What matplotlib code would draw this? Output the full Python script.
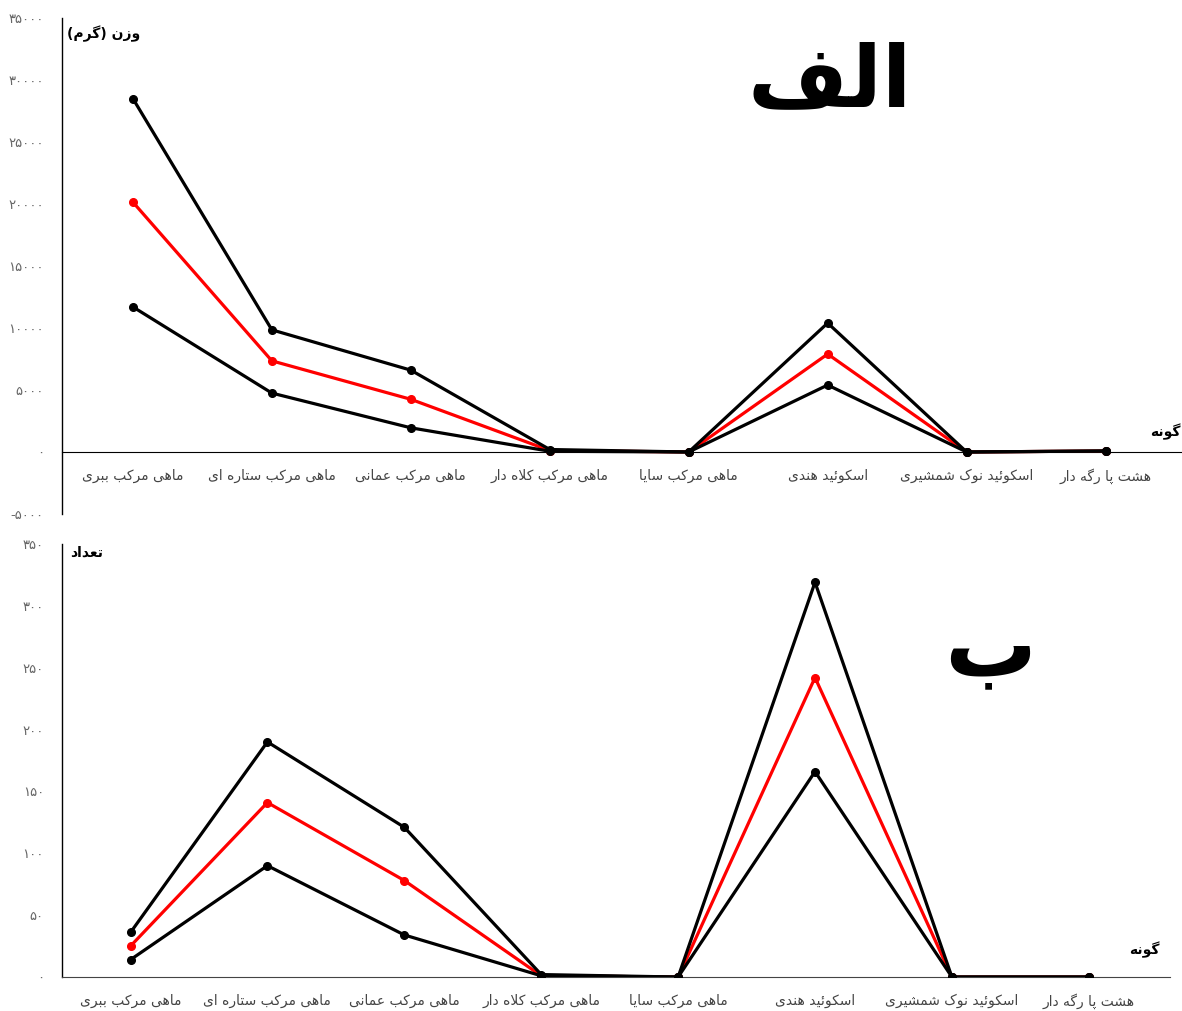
import matplotlib.pyplot as plt
from matplotlib.ticker import FuncFormatter, MultipleLocator

# species on the x axis (left to right as in the figure)
species = ['ماهی مرکب ببری', 'ماهی مرکب ستاره ای', 'ماهی مرکب عمانی', 'ماهی مرکب کلاه دار',
           'ماهی مرکب سایا', 'اسکوئید هندی', 'اسکوئید نوک شمشیری', 'هشت پا رگه دار']

# panel A: weight (grams)
weight_upper = [28500, 9850, 6600, 200, 0, 10400, 0, 80]
weight_mean = [20150, 7350, 4250, 120, 0, 7900, 0, 80]
weight_lower = [11700, 4750, 1950, 60, 0, 5400, 0, 80]

# panel B: count
count_upper = [36, 190, 121, 2, 0, 319, 0, 0]
count_mean = [25, 141, 78, 1, 0, 242, 0, 0]
count_lower = [14, 90, 34, 1, 0, 166, 0, 0]

# arabic presentation forms: isolated, final, initial, medial
FORMS = {
	'ا': (0xFE8D, 0xFE8E, None, None),
	'ب': (0xFE8F, 0xFE90, 0xFE91, 0xFE92),
	'ت': (0xFE95, 0xFE96, 0xFE97, 0xFE98),
	'د': (0xFEA9, 0xFEAA, None, None),
	'ر': (0xFEAD, 0xFEAE, None, None),
	'ز': (0xFEAF, 0xFEB0, None, None),
	'س': (0xFEB1, 0xFEB2, 0xFEB3, 0xFEB4),
	'ش': (0xFEB5, 0xFEB6, 0xFEB7, 0xFEB8),
	'ع': (0xFEC9, 0xFECA, 0xFECB, 0xFECC),
	'ف': (0xFED1, 0xFED2, 0xFED3, 0xFED4),
	'ل': (0xFEDD, 0xFEDE, 0xFEDF, 0xFEE0),
	'م': (0xFEE1, 0xFEE2, 0xFEE3, 0xFEE4),
	'ن': (0xFEE5, 0xFEE6, 0xFEE7, 0xFEE8),
	'ه': (0xFEE9, 0xFEEA, 0xFEEB, 0xFEEC),
	'و': (0xFEED, 0xFEEE, None, None),
	'ئ': (0xFE89, 0xFE8A, 0xFE8B, 0xFE8C),
	'پ': (0xFB56, 0xFB57, 0xFB58, 0xFB59),
	'ک': (0xFB8E, 0xFB8F, 0xFB90, 0xFB91),
	'گ': (0xFB92, 0xFB93, 0xFB94, 0xFB95),
	'ی': (0xFBFC, 0xFBFD, 0xFBFE, 0xFBFF),
	'LA': (0xFEFB, 0xFEFC, None, None),
}
MIRROR = {'(': ')', ')': '('}


def dual(t):
	return t in FORMS and FORMS[t][2] is not None


# shape persian text and put it in visual (left to right) order
def fa(text):
	tokens = []
	i = 0
	while i < len(text):
		if text[i] == 'ل' and i + 1 < len(text) and text[i + 1] == 'ا':
			tokens.append('LA')
			i += 2
		else:
			tokens.append(text[i])
			i += 1
	out = []
	for i, t in enumerate(tokens):
		if t not in FORMS:
			out.append(MIRROR.get(t, t))
			continue
		prev = tokens[i - 1] if i > 0 else None
		nxt = tokens[i + 1] if i + 1 < len(tokens) else None
		jp = prev is not None and dual(prev)
		jn = dual(t) and nxt in FORMS
		iso, fin, ini, med = FORMS[t]
		if jp and jn:
			c = med
		elif jp:
			c = fin
		elif jn:
			c = ini
		else:
			c = iso
		out.append(chr(c))
	return ''.join(reversed(out))


DIGITS = str.maketrans('0123456789', '۰۱۲۳۴۵۶۷۸۹')
fa_num = FuncFormatter(lambda v, p: ('%d' % round(v)).translate(DIGITS))

plt.rcParams['font.family'] = ['DejaVu Sans']

fig = plt.figure(figsize=(11.82, 10.11), dpi=100)
ax1 = fig.add_axes([0.0525, 0.4916, 0.9475, 0.4906])
ax2 = fig.add_axes([0.0525, 0.0336, 0.937, 0.4284])

# the zero line of panel A carries the species labels
ax1.spines['bottom'].set_position(('data', 0))

x = list(range(len(species)))
labels = [fa(s) for s in species]


def draw(ax, upper, mean, lower):
	ax.plot(x, mean, color='red', lw=2.3, marker='o', ms=5.5, zorder=3)
	ax.plot(x, upper, color='black', lw=2.3, marker='o', ms=5.5, zorder=4)
	ax.plot(x, lower, color='black', lw=2.3, marker='o', ms=5.5, zorder=4)
	ax.set_xticks(x)
	ax.set_xticklabels(labels, fontsize=10, color='#444444')
	ax.yaxis.set_major_formatter(fa_num)
	ax.tick_params(axis='both', length=0)
	ax.tick_params(axis='x', pad=12)
	ax.tick_params(axis='y', pad=13, labelsize=9.5, labelcolor='#666666')
	ax.spines['top'].set_visible(False)
	ax.spines['right'].set_visible(False)
	ax.spines['left'].set_linewidth(1)


draw(ax1, weight_upper, weight_mean, weight_lower)
ax1.set_xlim(-0.51, 7.55)
ax1.set_ylim(-5000, 35000)
ax1.yaxis.set_major_locator(MultipleLocator(5000))

draw(ax2, count_upper, count_mean, count_lower)
ax2.set_xlim(-0.5, 7.59)
ax2.set_ylim(0, 350)
ax2.yaxis.set_major_locator(MultipleLocator(50))
ax2.spines['bottom'].set_color('#444444')

fig.text(0.057, 0.967, fa('وزن (گرم)'), fontsize=10, fontweight='bold', ha='left', va='center')
fig.text(0.059, 0.453, fa('تعداد'), fontsize=10, fontweight='bold', ha='left', va='center')
fig.text(0.999, 0.5727, fa('گونه'), fontsize=10, fontweight='bold', ha='right', va='center')
fig.text(0.981, 0.0603, fa('گونه'), fontsize=10, fontweight='bold', ha='right', va='center')

fig.text(0.702, 0.918, fa('الف'), fontsize=62, fontweight='bold', ha='center', va='center')
fig.text(0.8376, 0.358, fa('ب'), fontsize=66, fontweight='bold', ha='center', va='center')

fig.savefig('out.png', dpi=100)
